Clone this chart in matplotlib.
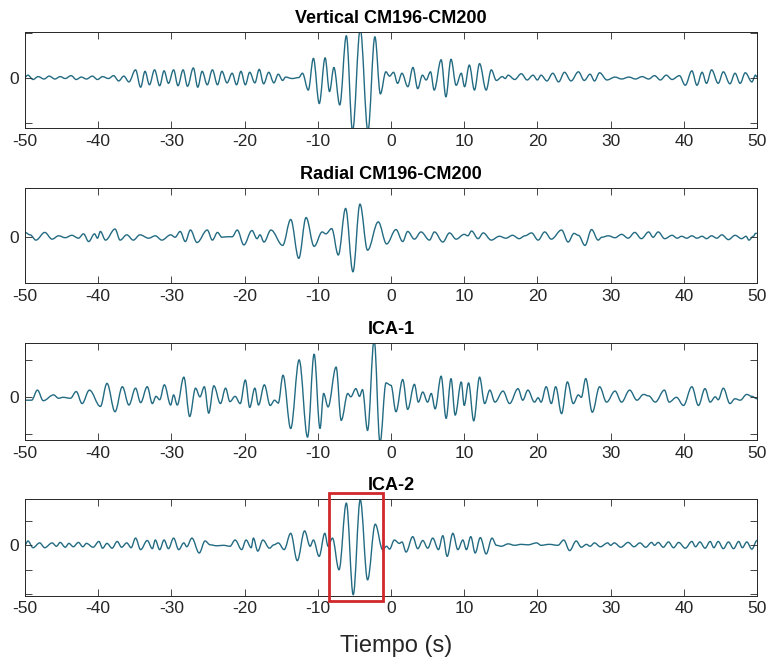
import matplotlib
matplotlib.use('Agg')
import matplotlib.pyplot as plt
from matplotlib.patches import Rectangle, PathPatch
from matplotlib.path import Path

plt.rcParams['font.family'] = ['Liberation Sans', 'DejaVu Sans']

# peak / trough picks of each trace: time (s) and normalised amplitude
t_vert = [-50.0, -49.6, -48.9, -48.2, -47.4, -46.7, -45.9, -45.2, -44.5, -43.7,
          -43.0, -42.3, -41.6, -40.8, -40.1, -39.4, -38.6, -37.9, -37.2, -36.5,
          -35.8, -34.9, -34.2, -33.6, -33.0, -32.3, -31.6, -31.0, -30.4, -29.7,
          -29.1, -28.4, -27.8, -27.0, -26.4, -25.8, -25.1, -24.4, -23.7, -23.1,
          -22.4, -21.7, -21.1, -20.5, -19.9, -19.3, -18.6, -18.0, -17.4, -16.7,
          -16.0, -15.4, -14.8, -14.4, -13.5, -12.6, -12.1, -11.3, -10.6, -9.8,
          -9.0, -8.4, -7.8, -7.0, -6.1, -5.25, -4.2, -3.15, -2.2, -1.45,
          -0.7, -0.2, 0.35, 0.9, 1.5, 2.3, 3.0, 3.65, 4.3, 4.8,
          5.4, 5.9, 6.85, 7.5, 8.2, 8.9, 9.6, 10.05, 10.7, 11.4,
          12.1, 13.0, 13.7, 14.4, 15.2, 15.6, 16.0, 16.9, 17.8, 18.6,
          19.4, 20.0, 20.5, 21.3, 22.1, 22.9, 23.7, 24.6, 25.6, 26.4,
          27.2, 27.8, 28.5, 29.5, 30.6, 31.5, 32.5, 33.4, 34.3, 35.2,
          36.0, 36.8, 37.6, 38.4, 39.4, 40.2, 41.1, 41.8, 42.5, 43.1,
          43.8, 44.7, 45.4, 46.3, 47.0, 47.7, 48.4, 49.3, 49.8, 50.0]
a_vert = [0.02, 0.06, -0.03, 0.03, -0.02, 0.04, -0.02, 0.03, -0.01, 0.05,
          -0.03, 0.02, -0.02, 0.04, -0.03, 0.03, -0.01, 0.05, -0.06, 0.04,
          -0.08, 0.17, -0.19, 0.14, -0.14, 0.17, -0.16, 0.15, -0.11, 0.17,
          -0.16, 0.17, -0.17, 0.21, -0.19, 0.14, -0.14, 0.17, -0.14, 0.14,
          -0.10, 0.10, -0.14, 0.14, -0.14, 0.12, -0.10, 0.18, -0.12, 0.12,
          -0.10, 0.08, -0.05, 0.02, -0.01, 0.01, 0.10, -0.25, 0.41, -0.53,
          0.42, -0.28, 0.22, -0.56, 0.88, -1.10, 1.02, -1.10, 0.86, -0.33,
          0.13, 0.04, 0.12, -0.11, 0.10, -0.18, 0.22, -0.22, 0.06, -0.04,
          0.13, -0.25, 0.38, -0.39, 0.39, -0.15, 0.10, -0.18, 0.27, -0.25,
          0.30, -0.25, 0.17, -0.05, 0.03, -0.01, 0.06, -0.03, 0.09, -0.04,
          0.06, -0.04, 0.06, -0.06, 0.10, -0.08, 0.12, -0.06, 0.13, -0.05,
          0.08, -0.06, 0.11, -0.04, 0.02, -0.02, 0.02, -0.02, 0.03, -0.02,
          0.05, -0.04, 0.06, -0.03, 0.05, -0.15, 0.15, -0.15, 0.12, -0.11,
          0.17, -0.11, 0.13, -0.12, 0.10, -0.11, 0.11, -0.08, 0.06, 0.02]

t_rad = [-50.0, -49.3, -48.5, -47.3, -46.3, -45.4, -44.5, -43.6, -42.7, -42.0,
         -41.3, -40.5, -40.1, -39.7, -39.0, -37.7, -37.0, -36.1, -35.2, -34.3,
         -33.1, -32.2, -31.3, -30.1, -29.5, -28.8, -28.1, -27.4, -26.5, -25.1,
         -24.4, -23.7, -23.1, -22.4, -21.7, -21.0, -20.1, -19.0, -18.3, -17.9,
         -17.35, -16.4, -14.8, -13.7, -12.6, -11.6, -10.5, -9.4, -8.9, -8.1,
         -7.2, -6.2, -5.2, -4.24, -3.2, -1.74, -0.6, 0.68, 1.6, 2.28,
         3.2, 4.1, 5.25, 5.94, 7.08, 8.0, 8.9, 10.0, 10.5, 11.0,
         11.9, 12.6, 13.7, 14.8, 15.7, 16.6, 17.5, 18.3, 19.2, 20.1,
         21.0, 21.9, 23.3, 24.2, 25.0, 25.6, 26.5, 27.4, 28.3, 28.8,
         29.7, 30.6, 31.5, 32.4, 33.3, 34.2, 35.2, 35.8, 36.5, 37.4,
         38.4, 39.1, 39.7, 40.4, 41.1, 41.8, 42.5, 43.1, 43.8, 44.5,
         45.2, 46.1, 47.0, 47.9, 48.5, 48.9, 49.5, 49.8, 50.0]
a_rad = [0.10, 0.05, -0.06, 0.10, -0.04, 0.03, -0.01, 0.04, -0.02, 0.07,
         -0.09, 0.07, -0.02, 0.12, -0.06, 0.17, -0.06, 0.05, -0.06, 0.05,
         -0.02, 0.03, -0.06, 0.05, 0.00, 0.12, -0.09, 0.15, -0.11, 0.15,
         -0.06, 0.10, 0.00, 0.01, 0.01, 0.15, -0.16, 0.14, -0.03, 0.05,
         -0.10, 0.15, -0.17, 0.37, -0.44, 0.41, -0.19, 0.11, 0.07, 0.18,
         -0.37, 0.60, -0.72, 0.69, -0.27, 0.32, -0.14, 0.16, -0.09, 0.12,
         -0.04, 0.11, -0.06, 0.11, -0.10, 0.09, -0.04, 0.06, 0.03, 0.13,
         -0.03, 0.09, -0.06, 0.02, -0.02, 0.04, -0.03, 0.03, 0.09, -0.06,
         0.11, -0.04, 0.15, -0.10, 0.08, 0.04, -0.17, 0.16, -0.06, 0.00,
         0.03, -0.01, 0.06, -0.02, 0.10, -0.03, 0.11, 0.00, 0.11, -0.03,
         0.04, -0.02, 0.02, -0.02, 0.03, -0.02, 0.02, -0.03, 0.03, -0.02,
         0.05, -0.05, 0.04, -0.03, 0.02, -0.06, 0.02, 0.08, 0.08]

t_ica1 = [-50.0, -49.1, -48.3, -47.5, -46.1, -45.4, -44.8, -43.8, -43.0, -42.2,
          -41.2, -39.7, -38.8, -37.7, -36.7, -35.8, -34.9, -34.2, -33.3, -32.6,
          -32.1, -31.6, -30.96, -30.1, -29.7, -29.2, -28.3, -27.5, -26.7, -26.1,
          -25.5, -24.9, -24.2, -23.3, -22.6, -22.0, -21.3, -20.6, -19.9, -19.3,
          -18.6, -18.1, -17.3, -16.5, -15.9, -15.4, -14.75, -13.7, -12.55, -11.4,
          -10.5, -9.7, -9.2, -8.6, -7.5, -6.8, -5.9, -5.5, -4.8, -4.3,
          -3.9, -3.2, -2.3, -1.5, -0.68, 0.0, 0.68, 1.6, 2.28, 3.2,
          3.74, 4.34, 5.0, 5.5, 6.03, 6.85, 7.53, 8.2, 8.77, 9.6,
          10.0, 10.6, 11.3, 12.1, 12.8, 13.5, 14.2, 15.3, 16.2, 17.35,
          18.0, 18.7, 19.6, 20.1, 20.5, 21.2, 21.9, 22.5, 23.3, 24.1,
          24.9, 25.6, 26.0, 26.6, 27.5, 28.5, 29.45, 30.6, 31.5, 32.6,
          33.6, 34.5, 35.2, 36.1, 37.35, 38.0, 39.0, 39.95, 41.1, 42.0,
          42.9, 43.6, 44.3, 44.7, 45.4, 46.3, 47.0, 47.7, 48.6, 49.3,
          50.0]
a_ica1 = [-0.06, -0.06, 0.15, -0.07, 0.05, -0.02, 0.00, -0.02, 0.12, -0.13,
          0.15, -0.19, 0.29, -0.30, 0.22, -0.16, 0.19, -0.11, 0.22, -0.13,
          0.02, -0.05, 0.26, -0.16, 0.05, -0.16, 0.42, -0.40, 0.19, 0.01,
          0.22, -0.33, 0.24, -0.13, 0.19, -0.09, 0.02, -0.13, 0.36, -0.21,
          0.19, -0.16, 0.26, -0.17, -0.06, -0.12, 0.46, -0.65, 0.78, -0.83,
          0.90, -0.65, 0.08, -0.20, 0.63, -0.48, 0.08, 0.01, 0.18, 0.02,
          0.16, -0.69, 1.20, -0.95, 0.30, 0.25, -0.30, 0.37, -0.25, 0.27,
          -0.10, 0.11, -0.10, 0.08, -0.24, 0.44, -0.44, 0.39, -0.37, 0.32,
          -0.17, 0.30, -0.49, 0.42, -0.13, 0.15, -0.10, 0.13, -0.13, 0.18,
          -0.06, 0.15, -0.10, -0.01, -0.10, 0.22, -0.13, 0.22, -0.34, 0.32,
          -0.13, 0.05, 0.00, 0.39, -0.31, 0.22, -0.10, 0.13, -0.10, 0.15,
          -0.06, 0.06, 0.03, -0.10, 0.15, -0.10, 0.00, -0.17, 0.22, -0.17,
          0.18, -0.10, 0.01, -0.05, 0.19, -0.13, -0.03, -0.06, 0.06, 0.02,
          -0.03]

t_ica2 = [-50.0, -49.6, -48.9, -48.0, -47.3, -46.3, -45.7, -45.2, -44.5, -44.0,
          -43.4, -42.7, -42.1, -41.6, -40.7, -39.9, -39.4, -38.8, -38.1, -37.4,
          -36.8, -36.1, -35.5, -34.9, -34.2, -33.3, -32.6, -32.2, -31.6, -31.0,
          -30.4, -29.7, -29.0, -28.3, -27.9, -27.2, -26.2, -25.4, -24.7, -23.8,
          -22.9, -22.0, -21.3, -20.4, -19.8, -19.1, -18.8, -18.2, -17.5, -16.6,
          -16.0, -15.4, -14.6, -13.7, -12.8, -11.8, -11.05, -10.6, -9.82, -9.04,
          -8.6, -8.0, -7.1, -6.1, -5.16, -4.2, -3.2, -2.15, -1.14, -0.6,
          -0.2, 0.46, 1.14, 1.5, 2.06, 2.97, 3.65, 4.34, 5.02, 5.7,
          6.48, 7.08, 7.67, 8.45, 9.13, 9.82, 10.3, 10.9, 11.5, 12.2,
          13.0, 13.8, 14.4, 15.07, 16.0, 16.9, 17.8, 18.7, 19.9, 20.5,
          21.6, 22.8, 23.6, 24.4, 25.3, 26.0, 26.7, 27.2, 27.8, 28.6,
          29.6, 30.0, 30.5, 31.4, 32.4, 33.2, 34.0, 34.8, 35.6, 36.0,
          36.5, 37.2, 37.9, 38.6, 39.3, 40.2, 41.1, 41.6, 42.2, 42.9,
          43.6, 44.1, 44.7, 45.4, 46.1, 46.8, 47.5, 48.0, 48.6, 49.3,
          50.0]
a_ica2 = [0.01, 0.09, -0.05, 0.05, -0.05, 0.05, -0.02, 0.06, -0.04, 0.04,
          -0.03, 0.06, -0.03, 0.04, -0.04, 0.08, -0.06, 0.04, -0.06, 0.08,
          -0.04, 0.05, -0.05, 0.15, -0.09, 0.10, -0.07, 0.11, -0.09, 0.11,
          -0.07, 0.15, -0.09, 0.05, -0.03, 0.15, -0.16, 0.09, 0.01, -0.01,
          0.00, -0.02, 0.11, -0.09, 0.11, -0.05, 0.15, -0.12, 0.11, -0.06,
          0.01, 0.05, -0.09, 0.25, -0.32, 0.30, -0.02, 0.11, -0.23, 0.25,
          -0.02, 0.15, -0.51, 0.88, -1.03, 0.95, -0.72, 0.44, -0.09, -0.02,
          -0.08, 0.11, 0.04, 0.07, -0.14, 0.18, -0.07, 0.10, -0.06, 0.15,
          -0.09, 0.20, -0.23, 0.25, -0.09, 0.11, -0.09, 0.18, -0.16, 0.16,
          -0.18, 0.15, 0.00, -0.02, 0.03, 0.00, 0.02, 0.01, 0.05, 0.00,
          0.02, 0.00, 0.11, -0.11, 0.09, -0.04, 0.02, -0.02, 0.05, -0.03,
          0.05, 0.00, 0.05, -0.04, 0.06, -0.03, 0.05, -0.04, 0.06, 0.00,
          0.06, -0.04, 0.07, -0.05, 0.06, -0.06, 0.08, -0.03, 0.07, -0.06,
          0.08, -0.05, 0.08, -0.07, 0.07, -0.07, 0.08, -0.05, 0.07, -0.08,
          0.10]

titles = ['Vertical CM196-CM200', 'Radial CM196-CM200', 'ICA-1', 'ICA-2']
x_ticks = [-50, -40, -30, -20, -10, 0, 10, 20, 30, 40, 50]

# highlighted window on ICA-2 (time span and amplitude span)
box_t = [-8.5, -1.1]
box_a = [-1.16, 1.09]

traces = [(t_vert, a_vert), (t_rad, a_rad), (t_ica1, a_ica1), (t_ica2, a_ica2)]
ylims = [(-1.04, 0.96), (-0.96, 1.02), (-0.89, 1.125), (-1.05, 0.96)]
yticks = [[-0.93, 0, 0.93], [0], [-0.77, 0, 0.77], [-1.02, -0.51, 0, 0.51]]
# axes boxes in figure fraction
boxes = [[0.0325, 0.8058, 0.9519, 0.1457],
         [0.0325, 0.5701, 0.9519, 0.1442],
         [0.0325, 0.3323, 0.9519, 0.1467],
         [0.0325, 0.0961, 0.9519, 0.1463]]

dark = '#262626'
line_color = '#236b82'


def wave_path(t, a):
    # cubic segments between picks, flat tangent at every pick
    verts = [(t[0], a[0])]
    codes = [Path.MOVETO]
    for k in range(1, len(t)):
        d = (t[k] - t[k - 1]) * 0.36
        verts += [(t[k - 1] + d, a[k - 1]), (t[k] - d, a[k]), (t[k], a[k])]
        codes += [Path.CURVE4] * 3
    return Path(verts, codes)


fig = plt.figure(figsize=(7.69, 6.59), dpi=100)

for i in range(4):
    ax = fig.add_axes(boxes[i])
    t, a = traces[i]
    ax.add_patch(PathPatch(wave_path(t, a), fill=False, edgecolor=line_color,
                           lw=1.0))
    ax.set_xlim(-50, 50)
    ax.set_ylim(*ylims[i])
    ax.set_xticks(x_ticks)
    ax.set_xticklabels([str(v) for v in x_ticks])
    ax.set_yticks(yticks[i])
    ax.set_yticklabels(['0' if v == 0 else '' for v in yticks[i]])
    ax.tick_params(direction='in', top=True, right=True, length=5, width=0.6,
                   labelsize=12.5, colors=dark, pad=4)
    for s in ax.spines.values():
        s.set_color(dark)
        s.set_linewidth(0.7)
    ax.set_title(titles[i], fontsize=13, fontweight='bold', pad=6.5)

    if i == 3:
        ax.add_patch(Rectangle((box_t[0], box_a[0]), box_t[1] - box_t[0],
                               box_a[1] - box_a[0], fill=False,
                               edgecolor='#d0282c', lw=2, clip_on=False,
                               zorder=5))

fig.text(396 / 769, 1 - 652 / 659, 'Tiempo (s)', ha='center', va='baseline',
         fontsize=17, color=dark)

fig.savefig('out.png', dpi=100)
